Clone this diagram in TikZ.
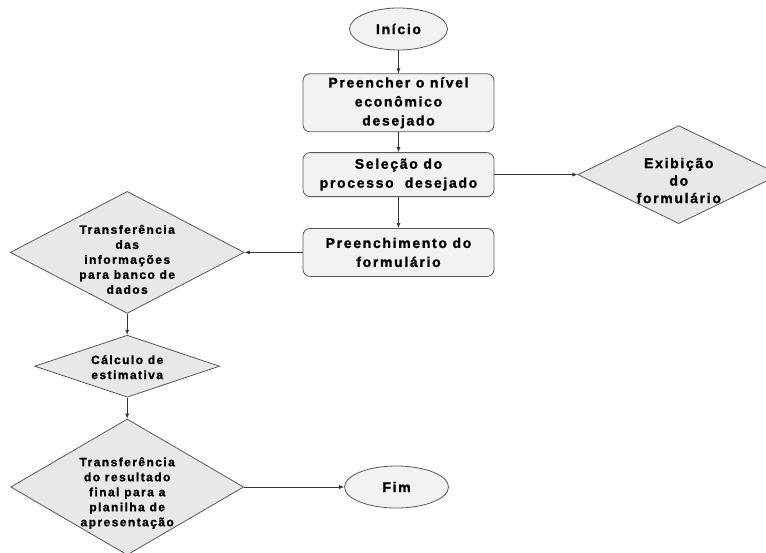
\documentclass[tikz,border=0pt]{standalone}
\usepackage{fontspec}
\newfontfamily\flowfont{Liberation Sans}[LetterSpace=12, BoldFeatures={FakeBold=1.3}]
\usetikzlibrary{positioning, shapes.geometric, arrows.meta}
\definecolor{linegray}{HTML}{595959}
\definecolor{boxgray}{HTML}{F2F2F2}
\definecolor{diagray}{HTML}{E8E8E8}

\begin{document}
\begin{tikzpicture}[x=1pt, y=1pt,
	font=\flowfont\fontsize{14}{19}\selectfont\bfseries,
	block/.style = { rectangle, rounded corners=7pt, draw=linegray, line width=0.8pt,
	fill=boxgray, minimum width=191pt, align=center, inner sep=0pt },
	term/.style = { ellipse, draw=linegray, line width=0.8pt, fill=boxgray,
	minimum width=98pt, minimum height=42pt, inner sep=0pt },
	decision/.style = { diamond, draw=linegray, line width=0.8pt, fill=diagray,
	inner sep=0pt },
	dtext/.style = { align=center, inner sep=0pt,
	font=\flowfont\fontsize{12}{15}\selectfont\bfseries },
	link/.style = { draw=black!80, line width=0.7pt, -{Latex[length=5pt, width=4pt]} } ]

  \useasboundingbox (0,0) rectangle (766,-552);

  \node [name=inicio, term] at (398.5,-29) { Início };
  \node [name=pre, block, minimum height=58pt, below=23pt of inicio]
	{ Preencher o nível\\econômico\\desejado };
  \node [name=sel, block, minimum height=44pt, below=20pt of pre]
	{ Seleção do\\processo\ \ desejado };
  \node [name=form, block, minimum height=48pt, below=31pt of sel]
	{ Preenchimento do\\formulário };
  \node [name=exib, decision, minimum width=202pt, minimum height=98pt,
	right=83pt of sel] {};
  \node [name=exibtext, align=center, inner sep=0pt, yshift=-6pt,
	font=\flowfont\fontsize{14}{17.5}\selectfont\bfseries] at (exib)
	{ Exibição\\do\\formulário };
  \node [name=transf, decision, minimum width=234pt, minimum height=122pt,
	left=58pt of form] {};
  \node [name=transftext, dtext, yshift=-7pt] at (transf)
	{ Transferência\\das\\informações\\para banco de\\dados };
  \node [name=calc, decision, minimum width=185pt, minimum height=62pt,
	below=21pt of transf] {};
  \node [name=calctext, dtext, yshift=-1pt] at (calc) { Cálculo de\\estimativa };
  \node [name=result, decision, minimum width=233pt, minimum height=136pt,
	below=21pt of calc] {};
  \node [name=resulttext, dtext, yshift=-6pt] at (result)
	{ Transferência\\do resultado\\final para a\\planilha de\\apresentação };
  \node [name=fim, term, minimum width=104pt, right=100pt of result] { Fim };

  \draw [link] (inicio) -- (pre);
  \draw [link] (pre) -- (sel);
  \draw [link] (sel) -- (form);
  \draw [link] (sel) -- (exib);
  \draw [link] (form) -- (transf);
  \draw [link] (transf) -- (calc);
  \draw [link] (calc) -- (result);
  \draw [link] (result) -- (fim);
\end{tikzpicture}
\end{document}
